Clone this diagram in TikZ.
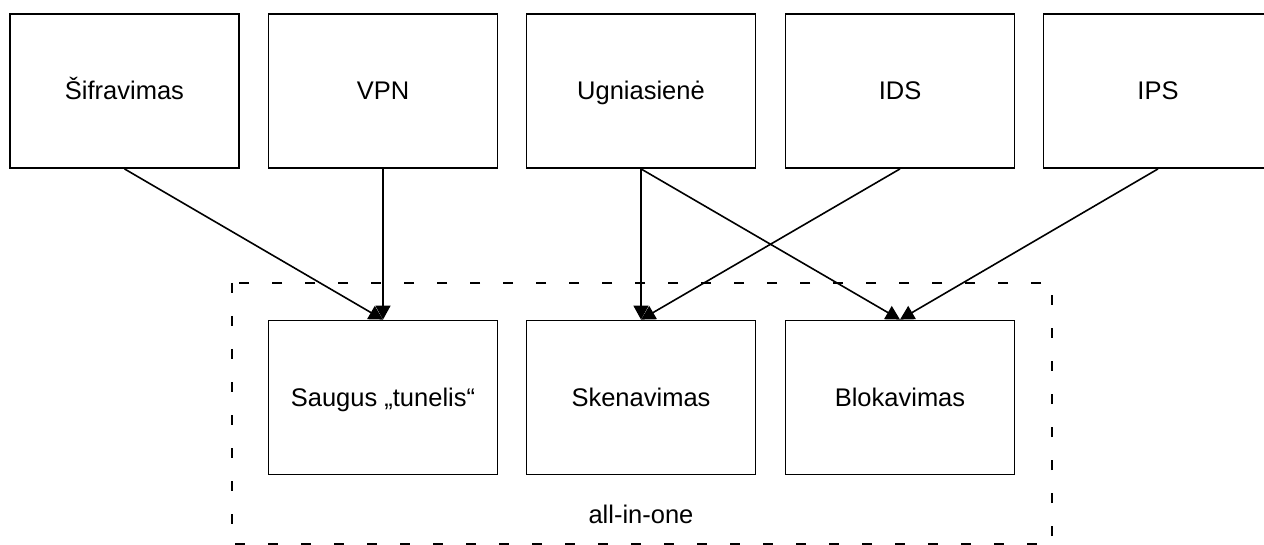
\documentclass[tikz,border=0pt]{standalone}
\usepackage{fontspec}
\setmainfont{Liberation Sans}
\usetikzlibrary{arrows.meta}
\begin{document}
\begin{tikzpicture}[x=1pt,y=-1pt,
  box/.style={draw,line width=1.8pt,minimum width=229pt,minimum height=154pt,
    inner sep=0pt,text height=18pt,text depth=0pt,font=\fontsize{25.5}{30}\selectfont},
  conn/.style={line width=1.6pt,-{Triangle[length=14pt,width=15pt]}},
  group/.style={draw,line width=1.8pt,dash pattern=on 10pt off 23pt}]
\useasboundingbox (0,0) rectangle (1264,545);

% all-in-one frame
\draw[group] (232,283) rectangle (1052,544);
\node[font=\fontsize{25.5}{30}\selectfont,text height=18pt,text depth=5pt] (lbl) at (641,517) {all-in-one};

% technologies
\node[box] (sif) at (124.5,91) {Šifravimas};
\node[box] (vpn) at (383,91) {VPN};
\node[box] (fw)  at (641,91) {Ugniasienė};
\node[box] (ids) at (900,91) {IDS};
\node[box] (ips) at (1158,91) {IPS};

% functions
\node[box] (tun)  at (383,397.5) {Saugus „tunelis“};
\node[box] (scan) at (641,397.5) {Skenavimas};
\node[box] (blk)  at (900,397.5) {Blokavimas};

% connections
\draw[conn] (sif.south) -- (tun.north);
\draw[conn] (vpn.south) -- (tun.north);
\draw[conn] (fw.south) -- (scan.north);
\draw[conn] (fw.south) -- (blk.north);
\draw[conn] (ids.south) -- (scan.north);
\draw[conn] (ips.south) -- (blk.north);
\end{tikzpicture}
\end{document}
